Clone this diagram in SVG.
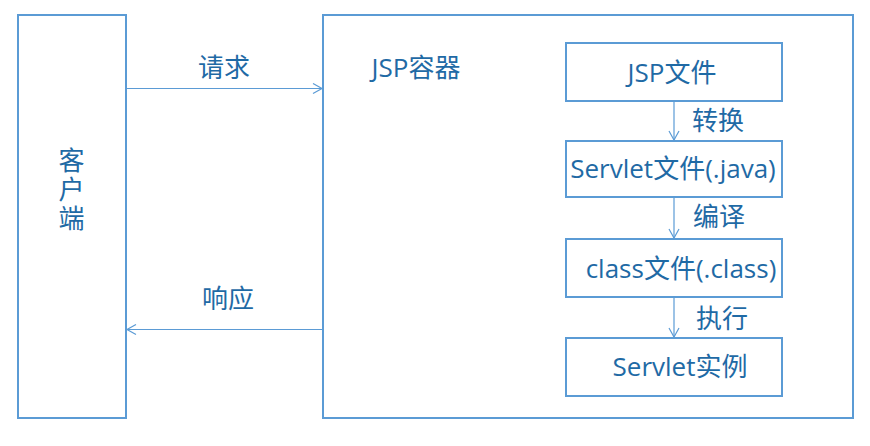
<svg xmlns="http://www.w3.org/2000/svg" width="870" height="446" viewBox="0 0 870 446">
<defs>
<style>
.box{fill:#fff;stroke:#5B9BD5;stroke-width:2}
.ln{stroke:#5B9BD5;stroke-width:1.2;fill:none}
text{font-family:"Open Sans","Noto Sans CJK SC",sans-serif;font-size:26px;fill:#1F6AA5}
</style>
<marker id="ah" markerWidth="12" markerHeight="12" refX="10" refY="6" orient="auto" markerUnits="userSpaceOnUse">
<path d="M1,1 L10,6 L1,11" fill="none" stroke="#5B9BD5" stroke-width="1.2"/>
</marker>
</defs>
<rect width="870" height="446" fill="#fff"/>
<g id="client"><rect class="box" x="18" y="15" width="108" height="403"/>
<text x="70" y="147" writing-mode="vertical-rl" letter-spacing="3">客户端</text></g>
<g id="container"><rect class="box" x="323" y="15" width="530" height="403"/>
<text x="416" y="77" text-anchor="middle">JSP容器</text></g>
<g id="jsp"><rect class="box" x="566" y="43" width="216" height="58"/><text x="672" y="82" text-anchor="middle">JSP文件</text></g>
<g id="servlet"><rect class="box" x="566" y="141" width="216" height="56"/><text x="673" y="178" text-anchor="middle">Servlet文件(.java)</text></g>
<g id="class"><rect class="box" x="566" y="239" width="216" height="58"/><text x="681" y="278" text-anchor="middle">class文件(.class)</text></g>
<g id="instance"><rect class="box" x="566" y="338" width="216" height="58"/><text x="680" y="376" text-anchor="middle">Servlet实例</text></g>
<g id="connectors">
<line class="ln" x1="126" y1="88.5" x2="322" y2="88.5" marker-end="url(#ah)"/>
<text x="224" y="77" text-anchor="middle">请求</text>
<line class="ln" x1="322" y1="329.5" x2="127" y2="329.5" marker-end="url(#ah)"/>
<text x="228" y="308" text-anchor="middle">响应</text>
<line class="ln" x1="674" y1="102" x2="674" y2="140" marker-end="url(#ah)"/>
<text x="718" y="130" text-anchor="middle">转换</text>
<line class="ln" x1="674" y1="198" x2="674" y2="238" marker-end="url(#ah)"/>
<text x="719" y="226" text-anchor="middle">编译</text>
<line class="ln" x1="674" y1="298" x2="674" y2="337" marker-end="url(#ah)"/>
<text x="722" y="328" text-anchor="middle">执行</text>
</g>
</svg>
